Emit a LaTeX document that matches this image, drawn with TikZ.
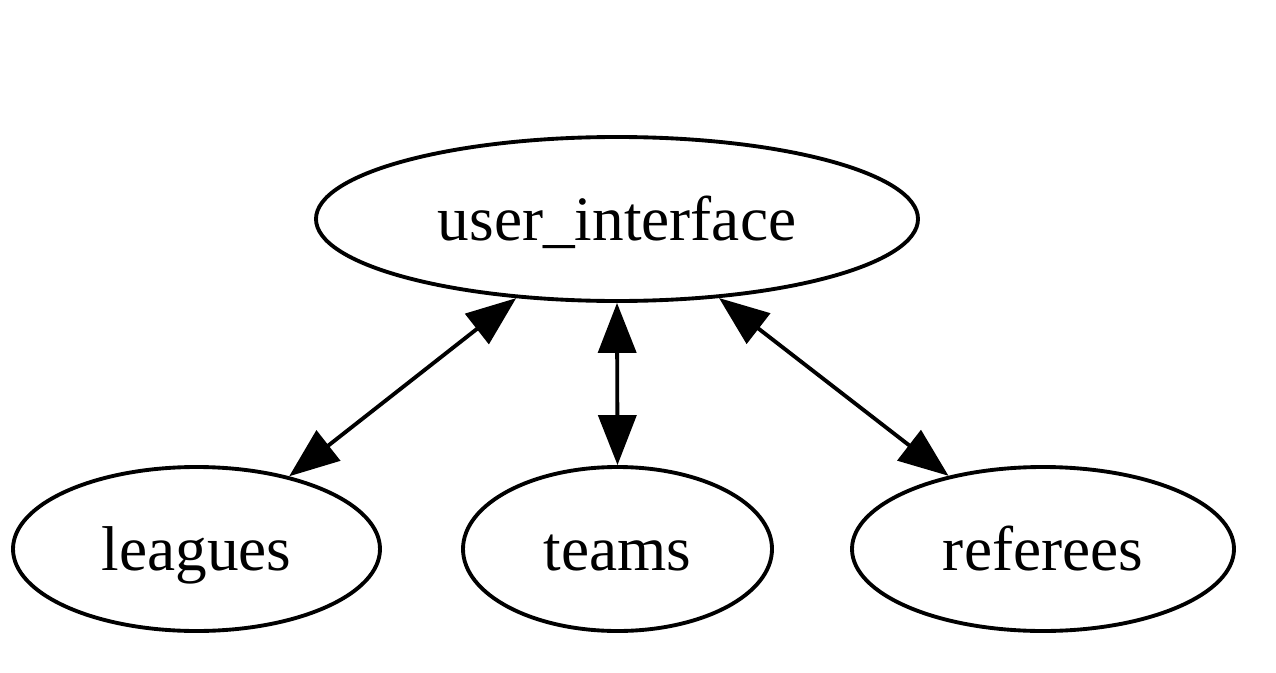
\documentclass[tikz,border=0pt]{standalone}
\usepackage{fontspec}
\setmainfont{Liberation Serif}
\usepackage{tikz}
\usetikzlibrary{shapes.geometric, arrows.meta}
\tikzstyle{module}=[ellipse, draw, line width=2.2pt, inner sep=0pt,
                    minimum height=3.28cm, text height=1.1cm, text depth=0.26cm,
                    font=\fontsize{36}{40}\selectfont]
\tikzstyle{link}=[{Triangle[length=1cm, width=0.76cm]}-{Triangle[length=1cm, width=0.76cm]},
                  line width=2.2pt, color=black]

\begin{document}
\begin{tikzpicture}
  \useasboundingbox (0,0) rectangle (25.52,13.44);

  % Top node
  \node[module, minimum width=12.04cm] (ui) at (12.34,9.06) {user\_interface};

  % Bottom row
  \node[module, minimum width=7.34cm] (leagues)  at (3.93,2.46)  {leagues};
  \node[module, minimum width=6.18cm] (teams)    at (12.35,2.46) {teams};
  \node[module, minimum width=7.64cm] (referees) at (20.86,2.46) {referees};

  % Links
  \draw[link] (ui) -- (leagues);
  \draw[link] (ui.south) -- (teams.north);
  \draw[link] (ui) -- (referees);
\end{tikzpicture}
\end{document}
